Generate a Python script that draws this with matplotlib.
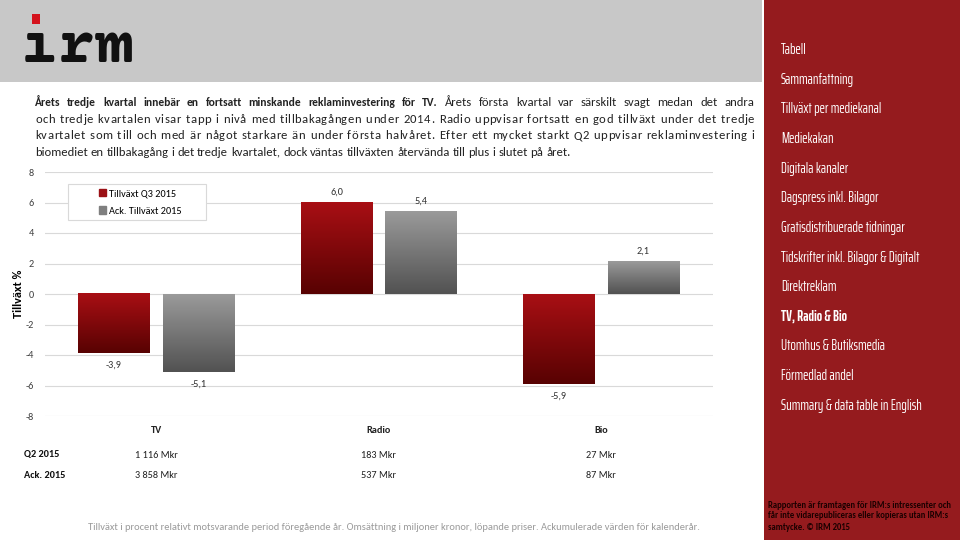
import numpy as np
import matplotlib
matplotlib.use("Agg")
import matplotlib.pyplot as plt
from matplotlib.patches import Rectangle
from matplotlib.transforms import blended_transform_factory

plt.rcParams["axes.unicode_minus"] = False

BODY = ["Carlito", "DejaVu Sans"]
MENU = ["Saira ExtraCondensed", "DejaVu Sans"]
LOGO = ["Courier Prime", "Cousine", "DejaVu Sans Mono"]

categories = ["TV", "Radio", "Bio"]
growth_q3 = [-3.9, 6.0, -5.9]
growth_ack = [-5.1, 5.4, 2.1]
series_names = ["Tillväxt Q3 2015", "Ack. Tillväxt 2015"]
table_rows = ["Q2 2015", "Ack. 2015"]
table_values = [["1 116 Mkr", "183 Mkr", "27 Mkr"],
                ["3 858 Mkr", "537 Mkr", "87 Mkr"]]
yticks = [-8, -6, -4, -2, 0, 2, 4, 6, 8]

para_bold = "Årets tredje kvartal innebär en fortsatt minskande reklaminvestering för TV."
para_lines = [
    "Årets första kvartal var särskilt svagt medan det andra",
    "och tredje kvartalen visar tapp i nivå med tillbakagången under 2014. Radio uppvisar fortsatt en god tillväxt under det tredje",
    "kvartalet som till och med är något starkare än under första halvåret. Efter ett mycket starkt Q2 uppvisar reklaminvestering i",
    "biomediet en tillbakagång i det tredje kvartalet, dock väntas tillväxten återvända till plus i slutet på året.",
]
footnote = ("Tillväxt i procent relativt motsvarande period föregående år. Omsättning i miljoner kronor, "
            "löpande priser. Ackumulerade värden för kalenderår.")
menu_items = ["Tabell", "Sammanfattning", "Tillväxt per mediekanal", "Mediekakan", "Digitala kanaler",
              "Dagspress inkl. Bilagor", "Gratisdistribuerade tidningar", "Tidskrifter inkl. Bilagor & Digitalt",
              "Direktreklam", "TV, Radio & Bio", "Utomhus & Butiksmedia", "Förmedlad andel",
              "Summary & data table in English"]
menu_active = "TV, Radio & Bio"
side_note = ["Rapporten är framtagen för IRM:s intressenter och",
             "får inte vidarepubliceras eller kopieras utan IRM:s",
             "samtycke. © IRM 2015"]

W, H = 960, 540
RED = "#951b1e"
PARA_SIZE = 9.1
BOLD_SIZE = 8.3


def fx(x):
    return x / W


def fy(y):
    return 1 - y / H


fig = plt.figure(figsize=(9.6, 5.4), dpi=100)
fig.patch.set_facecolor("white")

# header band and sidebar
fig.patches.append(Rectangle((0, fy(82)), fx(762), 82 / H, transform=fig.transFigure,
                             facecolor="#c8c8c8", edgecolor="none", zorder=0))
fig.patches.append(Rectangle((fx(764), 0), 1 - fx(764), 1, transform=fig.transFigure,
                             facecolor=RED, edgecolor="none", zorder=0))

# logo
fig.text(fx(20), fy(62), "ırm", family=LOGO, weight="bold", fontsize=46, color="#111111",
         va="baseline", ha="left")
fig.patches.append(Rectangle((fx(32), fy(24)), fx(8), 10 / H, transform=fig.transFigure,
                             facecolor="#d4121c", edgecolor="none", zorder=3))

# paragraph, justified like the original (letters and word gaps stretched)
renderer = fig.canvas.get_renderer()
_cache = {}


def ink(s, bold):
    key = (s, bold)
    if key not in _cache:
        t = fig.text(0, 0, s, family=BODY, fontsize=BOLD_SIZE if bold else PARA_SIZE,
                     weight="bold" if bold else "normal")
        _cache[key] = t.get_window_extent(renderer).width
        t.remove()
    return _cache[key]


def put_line(words, y, x0, x1, justify, letter_frac):
    space = ink("a a", False) - ink("aa", False)
    widths = [ink(w, b) for w, b in words]
    natural = sum(widths) + space * (len(words) - 1)
    ls = 0.0
    gap = space
    if justify:
        extra = x1 - x0 - natural
        inner = sum(len(w) - 1 for w, b in words)
        ls = letter_frac * extra / inner
        gap = space + (1 - letter_frac) * extra / (len(words) - 1)
    x = x0
    for (w, b), wd in zip(words, widths):
        kw = dict(family=BODY, fontsize=BOLD_SIZE if b else PARA_SIZE, color="#222222",
                  weight="bold" if b else "normal", va="baseline", ha="left")
        if ls == 0:
            fig.text(fx(x), fy(y), w, **kw)
        else:
            for i, ch in enumerate(w):
                off = ink(w[:i + 1], b) - ink(ch, b)
                fig.text(fx(x + off + ls * i), fy(y), ch, **kw)
        x += wd + ls * (len(w) - 1) + gap


line_words = [[(w, True) for w in para_bold.split()] + [(w, False) for w in para_lines[0].split()]]
line_words += [[(w, False) for w in ln.split()] for ln in para_lines[1:]]
letter_fracs = [0.0, 0.55, 0.55, 0.0]
for i, words in enumerate(line_words):
    put_line(words, 106 + i * 16.6, 35, 754, i < len(line_words) - 1, letter_fracs[i])

# chart
ax = fig.add_axes([fx(45), fy(416), (712.5 - 45) / W, 244 / H])
x = np.arange(len(categories))
width = 0.32
bars1 = ax.bar(x - 0.19, growth_q3, width, color="#9b1015", zorder=2)
bars2 = ax.bar(x + 0.19, growth_ack, width, color="#808080", zorder=2)


def gradient(bars, top, bottom):
    c0 = np.array(matplotlib.colors.to_rgb(top))
    c1 = np.array(matplotlib.colors.to_rgb(bottom))
    g = np.linspace(0, 1, 64)[:, None, None]
    img = c0 * (1 - g) + c1 * g
    for b in bars:
        y0, y1 = sorted([b.get_y(), b.get_y() + b.get_height()])
        ax.imshow(img, extent=[b.get_x(), b.get_x() + b.get_width(), y0, y1],
                  aspect="auto", origin="upper", zorder=2.5, interpolation="bilinear")
        b.set_alpha(0)


gradient(bars1, "#a80f14", "#580202")
gradient(bars2, "#9a9a9a", "#525252")

for bars, vals in [(bars1, growth_q3), (bars2, growth_ack)]:
    for b, v in zip(bars, vals):
        ax.annotate(f"{v:.1f}".replace(".", ","), (b.get_x() + b.get_width() / 2, v),
                    xytext=(0, 4.5 if v > 0 else -5.5), textcoords="offset points",
                    ha="center", va="bottom" if v > 0 else "top", family=BODY, fontsize=7.4,
                    color="#333333")

ax.set_xlim(-0.5, 2.5)
ax.set_ylim(-8, 8)
ax.set_yticks(yticks)
ax.set_yticklabels([str(t) for t in yticks], family=BODY, fontsize=7.4, color="#404040")
ax.set_xticks(x)
ax.set_xticklabels(categories, family=BODY, fontsize=7.4, weight="bold", color="#222222")
ax.tick_params(length=0, axis="y", pad=8)
ax.tick_params(length=0, axis="x", pad=7.5)
ax.grid(axis="y", color="#d9d9d9", lw=0.8, zorder=0)
ax.set_axisbelow(True)
for s in ax.spines.values():
    s.set_visible(False)
ax.set_ylabel("Tillväxt %", family=BODY, fontsize=8.8, weight="bold", labelpad=1)

# legend with a wide frame like the original
ax.add_patch(Rectangle((0.0345, 0.803), 0.2065, 0.148, transform=ax.transAxes, facecolor="white",
                       edgecolor="#d9d9d9", lw=0.8, zorder=4))
handles = [Rectangle((0, 0), 1, 1, color="#9b1015"), Rectangle((0, 0), 1, 1, color="#7f7f7f")]
leg = ax.legend(handles, series_names, loc="upper left", bbox_to_anchor=(0.081, 0.93),
                borderaxespad=0, borderpad=0, frameon=False,
                prop={"family": BODY, "size": 7.4}, handlelength=0.7, handleheight=0.7,
                handletextpad=0.3, labelspacing=0.8)
leg.set_zorder(5)

# table under chart
bt = blended_transform_factory(ax.transData, fig.transFigure)
for r, (name, vals) in enumerate(zip(table_rows, table_values)):
    y = fy(455 + r * 20)
    fig.text(fx(24), y, name, family=BODY, fontsize=7.4, weight="bold", va="center", color="#111111")
    for i, v in enumerate(vals):
        fig.text(x[i], y, v, transform=bt, family=BODY, fontsize=7.4, va="center", ha="center",
                 color="#222222")

fig.text(fx(394), fy(528), footnote, family=BODY, fontsize=7.5, color="#9a9a9a", ha="center", va="center")

# sidebar menu
for i, item in enumerate(menu_items):
    fig.text(fx(781), fy(50 + i * 29.65), item, family=MENU, fontsize=10.4,
             weight="bold" if item == menu_active else "normal", color="white", va="center", ha="left")
for i, ln in enumerate(side_note):
    fig.text(fx(768), fy(505 + i * 11), ln, family=BODY, fontsize=6.2, weight="bold",
             color="#1a0000", va="center", ha="left")

fig.savefig("out.png", dpi=100)
